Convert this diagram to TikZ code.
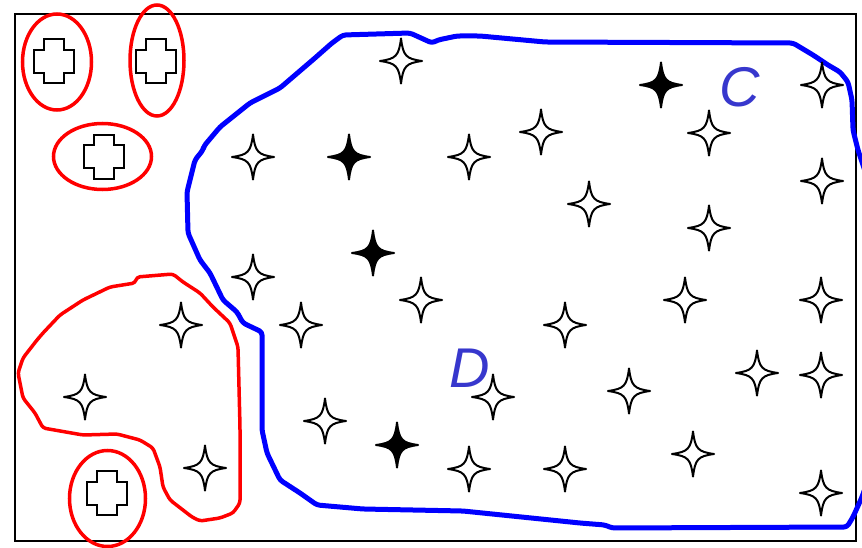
\documentclass[tikz,border=0pt]{standalone}
\usepackage{fontspec}
\setmainfont{Liberation Sans}
\definecolor{labelblue}{RGB}{55,55,205}
\tikzset{
  sparkle/.pic={\draw[line width=2pt, line join=round, pic actions]
    (21,0) .. controls (5,2.2) and (2.2,5) .. (0,22.5)
    .. controls (-2.2,5) and (-5,2.2) .. (-21,0)
    .. controls (-5,-2.2) and (-2.2,-5) .. (0,-22.5)
    .. controls (2.2,-5) and (5,-2.2) .. cycle;},
  plusbox/.pic={\draw[line width=2pt]
    (-10,-22) -- (10,-22) -- (10,-11.5) -- (20,-11.5) -- (20,11.5) -- (10,11.5)
    -- (10,22) -- (-10,22) -- (-10,11.5) -- (-20,11.5) -- (-20,-11.5) -- (-10,-11.5) -- cycle;},
  redline/.style={draw=red, line width=3.5pt},
  blueline/.style={draw=blue, line width=5pt, line join=round, rounded corners=3pt},
  lbl/.style={text=labelblue, font=\fontsize{56}{56}\selectfont\itshape, inner sep=0pt}
}
\begin{document}
\begin{tikzpicture}[x=1pt,y=-1pt]
\useasboundingbox (0,0) rectangle (862,548);
\fill[white] (0,0) rectangle (862,548);
\draw[line width=2pt] (15,14) rectangle (856,541);

% blue region C/D
\draw[blueline] (343,35) -- (410,33) -- (432,43) -- (438,40) -- (457,36) -- (480,36) -- (545,42)
  -- (793,43) -- (813,55) -- (828,65) -- (840,72) -- (848,82) -- (852,100) -- (853,130)
  -- (858,150) -- (868,180) -- (875,300) -- (868,480) -- (862,497) -- (853,517) -- (847,527)
  -- (612,528) -- (605,525) -- (580,523) -- (463,511) -- (363,509) -- (317,505) -- (300,493)
  -- (280,480) -- (267,453) -- (262,430) -- (262,332) -- (243,323) -- (237,312) -- (223,300)
  -- (210,273) -- (200,260) -- (188,233) -- (187,192) -- (195,160) -- (203,150) -- (204,146)
  -- (220,127) -- (235,115) -- (250,103) -- (280,88) -- (315,58) -- (332,43) -- cycle;

% red blob
\draw[redline, line join=round, rounded corners=3pt] (137,277) -- (173,274) -- (183,282) -- (200,293) -- (213,307)
  -- (230,323) -- (238,347) -- (240,427) -- (240,503) -- (233,513) -- (220,518) -- (200,521)
  -- (192,517) -- (170,500) -- (163,487) -- (160,467) -- (153,448) -- (140,440) -- (117,434)
  -- (83,435) -- (43,428) -- (35,413) -- (23,398) -- (18,373) -- (23,358) -- (37,340)
  -- (43,333) -- (60,315) -- (83,300) -- (110,287) -- (135,283) -- cycle;

% red ellipses
\draw[redline] (57,62) ellipse [x radius=34.5pt, y radius=48pt];
\draw[redline] (157,60.5) ellipse [x radius=27pt, y radius=55.5pt];
\draw[redline] (102.5,156.5) ellipse [x radius=49pt, y radius=33pt];
\draw[redline] (107.5,498.5) ellipse [x radius=38pt, y radius=48pt];

% crosses
\pic (p1) at (54,61.3) {plusbox};
\pic (p2) at (155.5,61.3) {plusbox};
\pic (p3) at (104,157) {plusbox};
\pic (p4) at (106.5,493) {plusbox};

% hollow stars
\foreach \x/\y [count=\i] in {401/61, 253/157, 469/157, 541/132, 709/133, 822/85, 822/181,
  589/204, 709/228, 253/277, 421/300, 301/325, 565/325, 685/300, 821/300, 181/325, 85/397,
  205/468, 325/421, 493/397, 629/391, 757/373, 821/375, 469/469, 565/469, 693/454, 821/493}
  \pic (s\i) at (\x,\y) {sparkle};

% filled stars
\foreach \x/\y [count=\i] in {661/85, 349/157, 373/253, 397/445}
  \pic[fill=black] (f\i) at (\x,\y) {sparkle};

\node[lbl] (C) at (740,87) {C};
\node[lbl] (D) at (470,368) {D};
\end{tikzpicture}
\end{document}
